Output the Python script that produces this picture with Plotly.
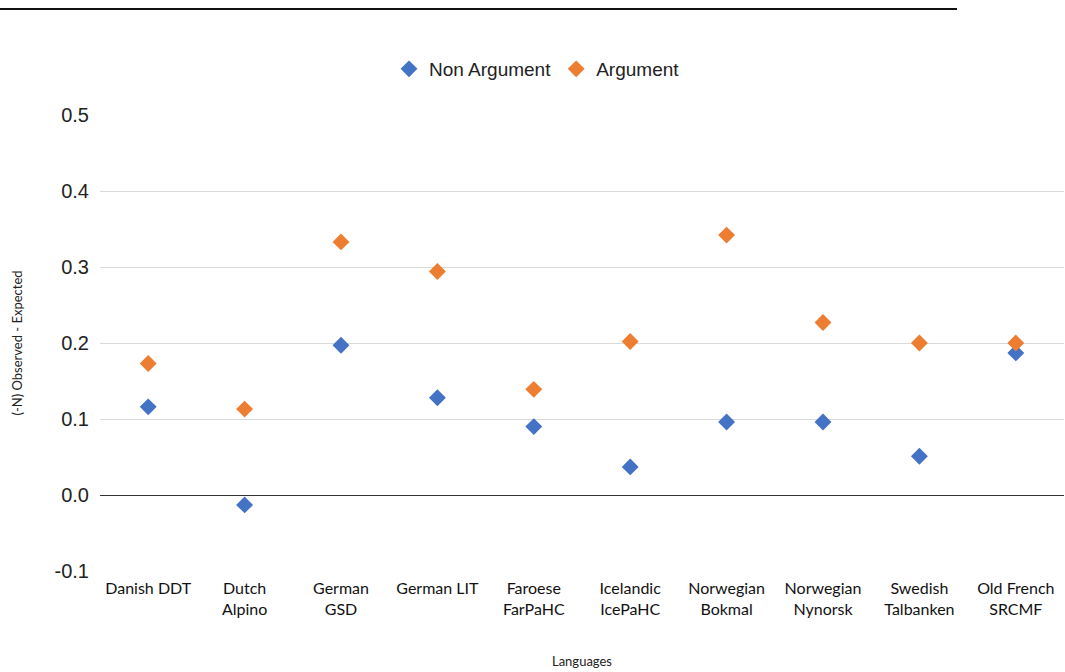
import plotly.graph_objects as go

languages = [
    "Danish DDT", "Dutch<br>Alpino", "German<br>GSD", "German LIT", "Faroese<br>FarPaHC",
    "Icelandic<br>IcePaHC", "Norwegian<br>Bokmal", "Norwegian<br>Nynorsk",
    "Swedish<br>Talbanken", "Old French<br>SRCMF",
]
non_argument = [0.116, -0.013, 0.197, 0.128, 0.090, 0.037, 0.096, 0.096, 0.051, 0.187]
argument = [0.173, 0.113, 0.333, 0.294, 0.139, 0.202, 0.342, 0.227, 0.200, 0.200]
y_ticks = [-0.1, 0.0, 0.1, 0.2, 0.3, 0.4, 0.5]
y_tick_text = ["-0.1", "0.0", "0.1", "0.2", "0.3", "0.4", "0.5"]

fig = go.Figure()
fig.add_trace(go.Scatter(
    x=languages, y=non_argument, mode="markers", name="Non Argument",
    marker=dict(symbol="diamond", size=13, color="#4472c4"),
))
fig.add_trace(go.Scatter(
    x=languages, y=argument, mode="markers", name="Argument",
    marker=dict(symbol="diamond", size=13, color="#ed7d31"),
))

fig.update_layout(
    width=1065, height=672,
    margin=dict(l=100, r=1, t=115, b=101, autoexpand=False),
    paper_bgcolor="white", plot_bgcolor="white",
    showlegend=True,
    legend=dict(
        orientation="h", x=(537 - 100) / 964, xanchor="center", xref="paper",
        y=1 - 69 / 672, yref="container", yanchor="middle",
        font=dict(family="Liberation Sans, Arial, sans-serif", size=19, color="#222"),
        itemwidth=30, tracegroupgap=0,
    ),
    xaxis=dict(
        type="category", showgrid=False, showline=False, ticks="",
        tickfont=dict(family="Lato, Open Sans, sans-serif", size=16, color="#111"),
        ticklabelstandoff=6,
        title=dict(text="Languages", font=dict(family="Lato, sans-serif", size=13, color="#222"), standoff=40),
        range=[-0.5, 9.5],
    ),
    yaxis=dict(
        range=[-0.1, 0.5], tickvals=y_ticks, ticktext=y_tick_text,
        showgrid=True, gridcolor="#d9d9d9", gridwidth=1,
        zeroline=True, zerolinecolor="#333333", zerolinewidth=1,
        showline=False, ticks="", ticklabelstandoff=10,
        tickfont=dict(family="Liberation Sans, Arial, sans-serif", size=20, color="#222"),
        title=dict(text="(-N) Observed - Expected", font=dict(family="Lato, sans-serif", size=13, color="#222"), standoff=28),
    ),
    shapes=[
        dict(type="line", xref="paper", yref="paper", x0=-100/964, x1=857/964,
             y0=1 + 106/456, y1=1 + 106/456, line=dict(color="#111", width=2)),
    ],
)

fig.write_html("out.html")
